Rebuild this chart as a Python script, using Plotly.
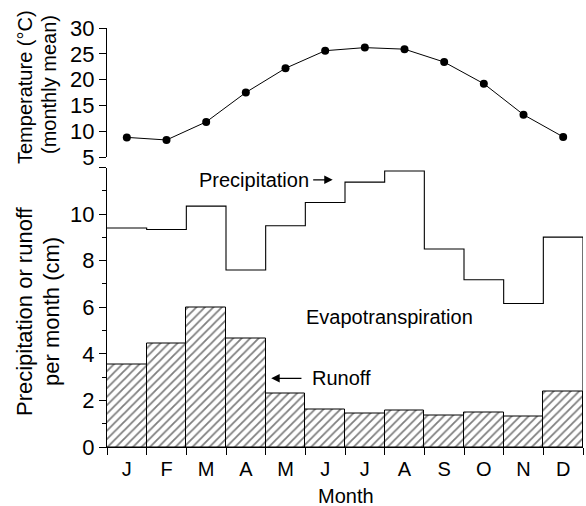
import plotly.graph_objects as go

months = ["J", "F", "M", "A", "M", "J", "J", "A", "S", "O", "N", "D"]
temperature = [8.8, 8.3, 11.8, 17.5, 22.2, 25.6, 26.2, 25.9, 23.4, 19.2, 13.2, 8.9]
precipitation = [9.40, 9.34, 10.34, 7.60, 9.50, 10.50, 11.37, 11.85, 8.50, 7.18, 6.16, 9.01]
runoff = [3.56, 4.43, 5.98, 4.68, 2.30, 1.59, 1.44, 1.55, 1.34, 1.50, 1.29, 2.39]

centers = [i + 0.5 for i in range(len(months))]
edges = list(range(len(months) + 1))

FONT = "Liberation Sans, Arial, sans-serif"
W, H = 586, 506
ML, MR, MT, MB = 107, 3, 28, 59
PH = H - MT - MB
PW = W - ML - MR


def px_x(p):
    return (p - ML) / PW


def px_y(p):
    return (H - MB - p) / PH


fig = go.Figure()

fig.add_trace(go.Bar(
    x=centers, y=runoff, width=1,
    marker=dict(color="white", line=dict(color="black", width=1),
                pattern=dict(shape="/", fgcolor="black", bgcolor="white", size=6, solidity=0.3)),
    xaxis="x", yaxis="y", showlegend=False, hoverinfo="skip",
))

fig.add_trace(go.Scatter(
    x=edges + [edges[-1]], y=precipitation + [precipitation[-1], 0],
    mode="lines", line=dict(shape="hv", color="black", width=1.1),
    xaxis="x", yaxis="y", showlegend=False,
))

fig.add_trace(go.Scatter(
    x=centers, y=temperature, mode="lines+markers",
    line=dict(color="black", width=1), marker=dict(color="black", size=8),
    xaxis="x2", yaxis="y2", showlegend=False, cliponaxis=False,
))

base = dict(showgrid=False, zeroline=False, showline=True, linecolor="black", linewidth=1, tickwidth=1)
yfont = dict(family=FONT, size=22, color="black")

fig.update_layout(
    width=W, height=H,
    margin=dict(l=ML, r=MR, t=MT, b=MB),
    paper_bgcolor="white", plot_bgcolor="white",
    font=dict(family=FONT, size=20, color="black"),
    bargap=0,
    xaxis=dict(domain=[0, 1], range=[0, 12], anchor="y",
               tickmode="array", tickvals=centers, ticktext=months,
               ticks="outside", ticklen=4, tickcolor="rgba(0,0,0,0)",
               tickfont=dict(family=FONT, size=20, color="black"),
               minor=dict(tickmode="array", tickvals=edges, ticks="outside", ticklen=7,
                          tickcolor="black", tickwidth=1),
               **base),
    yaxis=dict(domain=[0, px_y(167.5)], range=[0, 12], anchor="x",
               tickmode="array", tickvals=[0, 2, 4, 6, 8, 10, 12],
               ticktext=["0", "2", "4", "6", "8", "10", ""],
               ticks="outside", ticklen=7, tickcolor="black", tickfont=yfont,
               minor=dict(tickmode="array", tickvals=[1, 3, 5, 7, 9, 11], ticks="outside",
                          ticklen=4, tickcolor="black", tickwidth=1),
               **base),
    xaxis2=dict(domain=[0, 1], range=[0, 12], anchor="y2", visible=False),
    yaxis2=dict(domain=[px_y(157), 1], range=[5, 30], anchor="x2",
                tickmode="array", tickvals=[5, 10, 15, 20, 25, 30],
                ticks="outside", ticklen=7, tickcolor="black", tickfont=yfont, **base),
)

annos = [
    dict(text="Temperature (°C)", x=px_x(25), y=px_y(87), textangle=-90, size=20),
    dict(text="(monthly mean)", x=px_x(49), y=px_y(85), textangle=-90, size=20),
    dict(text="Precipitation or runoff", x=px_x(25), y=px_y(311), textangle=-90, size=22),
    dict(text="per month (cm)", x=px_x(51), y=px_y(312), textangle=-90, size=22),
    dict(text="Month", x=px_x(346), y=px_y(496), textangle=0, size=20),
]
for a in annos:
    fig.add_annotation(xref="paper", yref="paper", xanchor="center", yanchor="middle",
                       showarrow=False, text=a["text"], x=a["x"], y=a["y"], textangle=a["textangle"],
                       font=dict(family=FONT, size=a["size"], color="black"))

fig.add_annotation(xref="x", yref="y", x=5.15, y=11.47, text="Precipitation", xanchor="right",
                   yanchor="middle", showarrow=False, font=dict(family=FONT, size=20, color="black"))
fig.add_annotation(xref="x", yref="y", axref="x", ayref="y", x=5.69, y=11.47, ax=5.16, ay=11.47,
                   text="", showarrow=True, arrowhead=2, arrowsize=1.3, arrowwidth=1.3, arrowcolor="black")
fig.add_annotation(xref="x", yref="y", x=7.13, y=5.6, text="Evapotranspiration", xanchor="center",
                   yanchor="middle", showarrow=False, font=dict(family=FONT, size=20, color="black"))
fig.add_annotation(xref="x", yref="y", x=5.11, y=2.95, text="Runoff", xanchor="left",
                   yanchor="middle", showarrow=False, font=dict(family=FONT, size=20, color="black"))
fig.add_annotation(xref="x", yref="y", axref="x", ayref="y", x=4.14, y=2.95, ax=4.94, ay=2.95,
                   text="", showarrow=True, arrowhead=2, arrowsize=1.3, arrowwidth=1.3, arrowcolor="black")

fig.write_html("out.html")
